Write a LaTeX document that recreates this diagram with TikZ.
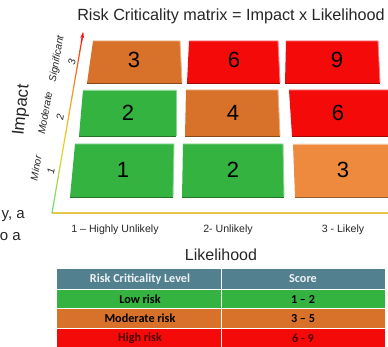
\documentclass[tikz,border=0pt]{standalone}
\usepackage{fontspec}
\setmainfont{Liberation Sans}
\newfontfamily\tabfont{Carlito}
\usetikzlibrary{calc,arrows.meta}
\definecolor{tgreen}{HTML}{34B340}
\definecolor{torange}{HTML}{D8712A}
\definecolor{tred}{HTML}{F50A0A}
\definecolor{tlorange}{HTML}{EE8A3E}
\definecolor{thead}{HTML}{52808F}
\definecolor{xaxis}{HTML}{E6C64A}
\definecolor{agreen}{HTML}{6CE06C}
\definecolor{ayellow}{HTML}{F2D020}
\definecolor{aorange}{HTML}{F59A20}
\definecolor{ared}{HTML}{FF1010}
\tikzset{
  tile/.style={fill=#1},
  hi/.style={draw=#1!55!white, line width=0.9pt},
  lo/.style={draw=#1!65!black, line width=0.9pt},
  num/.style={font=\fontsize{22}{22}\selectfont, text=black},
  axlab/.style={font=\fontsize{10.2}{10}\selectfont\itshape, rotate=80, text=black!85, inner sep=0.5pt},
  xlab/.style={font=\fontsize{10.6}{11}\selectfont, text=black!85},
  cell/.style={font=\tabfont\bfseries\fontsize{12.2}{12}\selectfont, text=black},
}
\newcommand{\mytile}[5]{%
  \fill[tile=#1] #2 -- #3 -- #4 -- #5 -- cycle;
  \draw[hi=#1] #2 -- #3 -- #4;
  \draw[lo=#1] #4 -- #5;
}
\begin{document}
\begin{tikzpicture}[x=1pt,y=-1pt]
\useasboundingbox (0,0) rectangle (388,347);
\clip (0,0) rectangle (388,347);
% title
\node[font=\fontsize{16.2}{16}\selectfont, text=black!85] (title) at (231,16) {Risk Criticality matrix = Impact x Likelihood};
% tiles row 1
\mytile{torange}{(93,41)}{(180,41)}{(182,83)}{(87,83)}
\mytile{tred}{(189,41)}{(278,41)}{(280,83)}{(187,83)}
\mytile{tred}{(286,41)}{(378,41)}{(380,83)}{(285,83)}
% row 2
\mytile{tgreen}{(83,90)}{(176,90)}{(176,136)}{(79,136)}
\mytile{torange}{(186,90)}{(278,90)}{(280,136)}{(185,136)}
\mytile{tred}{(289,90)}{(394,90)}{(398,136)}{(292,136)}
% row 3
\mytile{tgreen}{(75,144)}{(174,144)}{(173,197)}{(70,197)}
\mytile{tgreen}{(183,144)}{(283,144)}{(284,197)}{(182,197)}
\mytile{tlorange}{(293,144)}{(400,144)}{(400,197)}{(295,197)}
% numbers
\node[num] (n13) at (134,60) {3};
\node[num] (n16) at (234,60) {6};
\node[num] (n19) at (337,60) {9};
\node[num] (n22) at (128,113) {2};
\node[num] (n24) at (233,113) {4};
\node[num] (n26) at (338,113) {6};
\node[num] (n31) at (123,170) {1};
\node[num] (n32) at (233,170) {2};
\node[num] (n33) at (343,170) {3};
% axes
\coordinate (O) at (52,213);
\coordinate (Ytop) at (83,33);
\coordinate (Xend) at (392,213);
\draw[xaxis, line width=1.2pt] (O) -- (Xend);
\foreach \i in {0,...,19}{
  \pgfmathsetmacro{\ta}{\i/20}
  \pgfmathsetmacro{\tb}{(\i+1)/20}
  \pgfmathsetmacro{\pa}{\i<7 ? 100*\i/7 : (\i<13 ? 100*(\i-7)/6 : 100*(\i-13)/7)}
  \ifnum\i<7
    \colorlet{segc}{ayellow!\pa!agreen}
  \else\ifnum\i<13
    \colorlet{segc}{aorange!\pa!ayellow}
  \else
    \colorlet{segc}{ared!\pa!aorange}
  \fi\fi
  \draw[segc, line width=1.2pt, line cap=round] ($(O)!\ta!(Ytop)$) -- ($(O)!\tb!(Ytop)$);
}
\draw[ared, line width=1.2pt, -{Stealth[length=5pt,width=4pt]}] ($(O)!0.95!(Ytop)$) -- (Ytop);
% y labels
\node[font=\fontsize{17}{17}\selectfont, rotate=84, text=black!85] (impact) at (22,110) {Impact};
\node[axlab] (sig) at (57,59) {Significant};
\node[axlab] (sig3) at (72,62) {3};
\node[axlab] (mod) at (45,113) {Moderate};
\node[axlab] (mod2) at (60,117) {2};
\node[axlab] (min) at (36,168) {Minor};
\node[axlab] (min1) at (51,171) {1};
% x labels
\node[xlab] (x1) at (115,230) {1 – Highly Unlikely};
\node[xlab] (x2) at (228,230) {2- Unlikely};
\node[xlab] (x3) at (343,230) {3 - Likely};
\node[font=\fontsize{16}{16}\selectfont, text=black!85] (likelihood) at (221,255) {Likelihood};
% cut-off body text
\node[anchor=east, font=\fontsize{15}{15}\selectfont, text=black!85, inner sep=0pt] (t1) at (25,216) {y, a};
\node[anchor=east, font=\fontsize{15}{15}\selectfont, text=black!85, inner sep=0pt] (t2) at (21,237) {o a};
% table
\fill[thead] (57,269) rectangle (385,289);
\fill[tgreen] (57,290) rectangle (385,308);
\fill[torange] (57,309) rectangle (385,328);
\fill[tred] (57,329) rectangle (385,349);
\draw[white, line width=0.8pt] (221,269) -- (221,347);
\draw[white, line width=0.8pt] (57,289.5) -- (385,289.5);
\draw[white, line width=0.8pt] (57,308.5) -- (385,308.5);
\draw[white, line width=0.8pt] (57,328.5) -- (385,328.5);
\node[cell, text=white!90!thead] (h1) at (140,279) {Risk Criticality Level};
\node[cell, text=white!90!thead] (h2) at (303,279) {Score};
\node[cell] (r1a) at (140,299) {Low risk};
\node[cell] (r1b) at (303,299) {1 – 2};
\node[cell] (r2a) at (140,318.5) {Moderate risk};
\node[cell] (r2b) at (303,318.5) {3 – 5};
\node[cell, text=black!70!red] (r3a) at (140,338) {High risk};
\node[cell, text=black!70!red] (r3b) at (303,338) {6 - 9};
\end{tikzpicture}
\end{document}
